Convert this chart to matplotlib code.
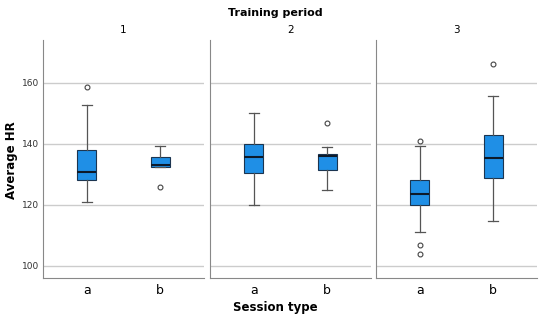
import matplotlib.pyplot as plt

periods = ["1", "2", "3"]
sessions = ["a", "b"]

# per period, per session: (whislo, q1, med, q3, whishi)
box_lo = [[120.8, 132.3], [120.0, 125.0], [111.0, 114.8]]
box_q1 = [[128.0, 132.3], [130.4, 131.3], [119.8, 128.7]]
box_med = [[130.9, 133.1], [135.5, 136.0], [123.6, 135.4]]
box_q3 = [[137.9, 135.5], [140.0, 136.7], [128.0, 142.8]]
box_hi = [[152.8, 139.1], [150.0, 139.0], [139.1, 155.5]]
outliers = [[[158.7], [125.7]], [[], [146.7]], [[141.0, 106.8, 103.8], [166.2]]]

fig = plt.figure(figsize=(5.5, 3.19), dpi=100)
lefts = [43, 210, 376]
w = 161
for p in range(3):
    ax = fig.add_axes([lefts[p] / 550, 1 - 278 / 319, w / 550, (278 - 40) / 319])
    stats = []
    for s in range(2):
        stats.append(dict(whislo=box_lo[p][s], q1=box_q1[p][s], med=box_med[p][s],
                          q3=box_q3[p][s], whishi=box_hi[p][s], fliers=outliers[p][s]))
    ax.bxp(stats, positions=[0, 1], widths=0.26, patch_artist=True,
           boxprops=dict(facecolor="#1f8fe6", edgecolor="#1c3550", linewidth=0.8),
           medianprops=dict(color="#0d1a2a", linewidth=1.5),
           whiskerprops=dict(color="#555555", linewidth=0.9),
           capprops=dict(color="#555555", linewidth=0.9),
           flierprops=dict(marker="o", markersize=3.5, markerfacecolor="white",
                           markeredgecolor="#444444", markeredgewidth=0.8))
    ax.set_xlim(-0.6, 1.6)
    ax.set_ylim(96, 174)
    ax.set_yticks([100, 120, 140, 160])
    ax.grid(axis="y", color="#cccccc", linewidth=1)
    ax.set_axisbelow(True)
    ax.set_xticks([0, 1])
    ax.set_xticklabels(sessions, fontsize=9)
    ax.tick_params(axis="x", length=0, pad=4)
    for sp in ["top", "right"]:
        ax.spines[sp].set_visible(False)
    ax.spines["left"].set_color("#888888")
    ax.spines["bottom"].set_color("#888888")
    if p == 0:
        ax.tick_params(axis="y", labelsize=6.5, length=0, pad=3, colors="#333333")
    else:
        ax.tick_params(axis="y", length=0, labelleft=False)
    ax.set_title(periods[p], fontsize=7.5, pad=5)

fig.text(0.5, 1 - 13 / 319, "Training period", ha="center", va="center",
         fontsize=8, fontweight="bold")
fig.text(0.5, 1 - 307 / 319, "Session type", ha="center", va="center",
         fontsize=8.5, fontweight="bold")
fig.text(12 / 550, 1 - 160 / 319, "Average HR", ha="center", va="center",
         rotation=90, fontsize=8.5, fontweight="bold")
fig.savefig("out.png", dpi=100)
